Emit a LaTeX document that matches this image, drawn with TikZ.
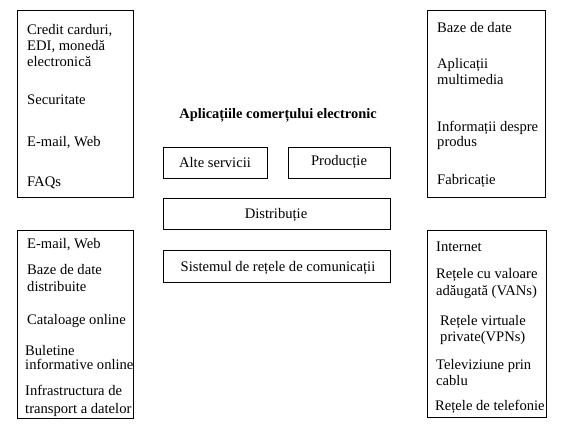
\documentclass[tikz,border=0pt]{standalone}
\usepackage{fontspec}
\setmainfont{Liberation Serif}
\begin{document}
\begin{tikzpicture}[x=1pt,y=-1pt,
  box/.style={draw,line width=0.8pt},
  txt/.style={anchor=base west,inner sep=0pt,font=\fontsize{14.6}{16}\selectfont},
  ctr/.style={anchor=base,inner sep=0pt,font=\fontsize{14.6}{16}\selectfont}]
\useasboundingbox (0,0) rectangle (564,427);
% outer boxes
\draw[box] (17,10) rectangle (133,197);
\draw[box] (17,230) rectangle (133,418);
\draw[box] (427,10) rectangle (545,197);
\draw[box] (427,230) rectangle (546,417);
% left top
\node[txt] (l1) at (27,35) {Credit carduri,};
\node[txt] (l2) at (27,51) {EDI, monedă};
\node[txt] (l3) at (27,67) {electronică};
\node[txt] (l4) at (27,105) {Securitate};
\node[txt] (l5) at (27,147) {E-mail, Web};
\node[txt] (l6) at (27,187) {FAQs};
% left bottom
\node[txt] (b1) at (27,249) {E-mail, Web};
\node[txt] (b2) at (27,275) {Baze de date};
\node[txt] (b3) at (27,291) {distribuite};
\node[txt] (b4) at (27,324) {Cataloage online};
\node[txt] (b5) at (25,355) {Buletine};
\node[txt] (b6) at (25,369) {informative online};
\node[txt] (b7) at (25,395) {Infrastructura de};
\node[txt] (b8) at (25,413) {transport a datelor};
% right top
\node[txt] (r1) at (437,33) {Baze de date};
\node[txt] (r2) at (437,69) {Aplicații};
\node[txt] (r3) at (437,85) {multimedia};
\node[txt] (r4) at (437,132) {Informații despre};
\node[txt] (r5) at (437,147) {produs};
\node[txt] (r6) at (437,185) {Fabricație};
% right bottom
\node[txt] (s1) at (436,252) {Internet};
\node[txt] (s2) at (436,278) {Rețele cu valoare};
\node[txt] (s3) at (436,295) {adăugată (VANs)};
\node[txt] (s4) at (440,325) {Rețele virtuale};
\node[txt] (s5) at (440,341) {private(VPNs)};
\node[txt] (s6) at (436,369) {Televiziune prin};
\node[txt] (s7) at (436,385) {cablu};
\node[txt] (s8) at (435,410) {Rețele de telefonie};
% middle
\node[ctr,font=\fontsize{14.4}{16}\selectfont\bfseries] (title) at (278,119) {Aplicațiile comerțului electronic};
\draw[box] (163,147) rectangle (267,178);
\node[ctr] (alte) at (215,168) {Alte servicii};
\draw[box] (288,147) rectangle (390,178);
\node[ctr] (prod) at (339,166) {Producție};
\draw[box] (163,198) rectangle (390,229);
\node[ctr] (dist) at (276,219) {Distribuție};
\draw[box] (163,250) rectangle (390,282);
\node[ctr] (sist) at (278,272) {Sistemul de rețele de comunicații};
\end{tikzpicture}
\end{document}
